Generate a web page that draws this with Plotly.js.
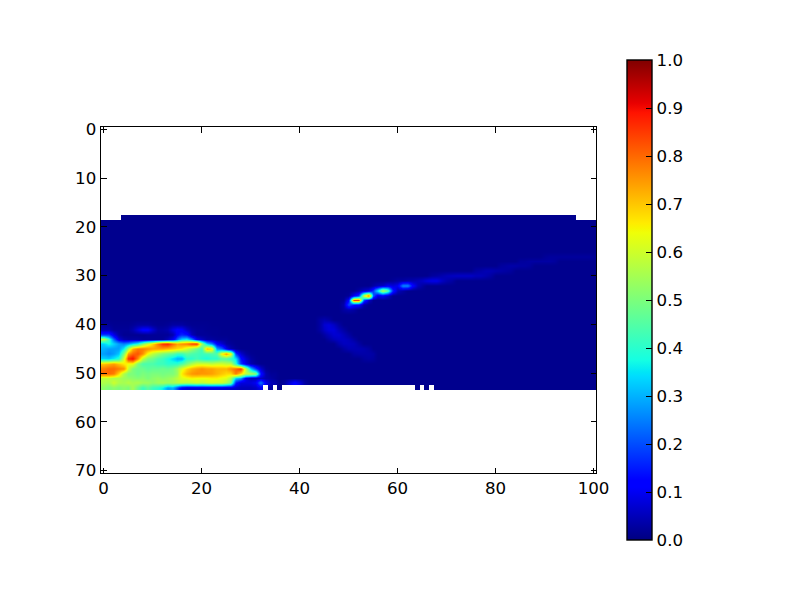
<!DOCTYPE html>
<html>
<head>
<meta charset="utf-8">
<script src="https://cdn.plot.ly/plotly-3.0.1.min.js"></script>
<style>html,body{margin:0;padding:0;background:#fff}</style>
</head>
<body>
<div id="chart" style="width:800px;height:600px"></div>
<script>
const nCols = 101, nRows = 71;
const backgroundLevel = 0.012;
const xTicks = [0, 20, 40, 60, 80, 100];
const yTicks = [0, 10, 20, 30, 40, 50, 60, 70];
const cbTicks = [0, 0.1, 0.2, 0.3, 0.4, 0.5, 0.6, 0.7, 0.8, 0.9, 1];
const cbLabels = ['0.0','0.1','0.2','0.3','0.4','0.5','0.6','0.7','0.8','0.9','1.0'];

// visible extent of the data per row: [row, firstCol, lastCol]
const spans = [[18, 4, 96]];
const fullRowsFrom = 19, fullRowsTo = 52;
const row53Cols = [[0, 32], [34, 34], [36, 36], [64, 64], [66, 66], [68, 100]];

// hot patch, rows 40..53, columns 0..35
const hotFirstRow = 40;
const hot40 = [.02,.02,.015,.015,.015,.015,.02,.03,.03,.03,.02,.015,.015,.02,.03,.03,.03,.02,.015,.015,.015,.015,.012,.012,.012,.012,.012,.012,.012,.012,.012,.012,.012,.012,.012,.012];
const hot41 = [.04,.04,.02,.02,.02,.02,.04,.08,.12,.12,.07,.03,.03,.04,.09,.12,.11,.06,.03,.02,.02,.015,.015,.015,.012,.012,.012,.012,.012,.012,.012,.012,.012,.012,.012,.012];
const hot42 = [.18,.18,.09,.03,.015,.015,.015,.015,.015,.02,.02,.02,.02,.02,.04,.12,.16,.14,.05,.02,.02,.02,.015,.015,.012,.012,.012,.012,.012,.012,.012,.012,.012,.012,.012,.012];
const hot43 = [.58,.42,.22,.08,.04,.03,.03,.03,.02,.02,.02,.02,.02,.05,.10,.22,.33,.36,.25,.10,.06,.03,.03,.02,.02,.02,.012,.012,.012,.012,.012,.012,.012,.012,.012,.012];
const hot44 = [.33,.38,.33,.28,.25,.28,.33,.38,.50,.60,.68,.78,.86,.88,.80,.74,.76,.78,.84,.86,.55,.33,.25,.12,.07,.03,.02,.012,.012,.012,.012,.012,.012,.012,.012,.012];
const hot45 = [.30,.28,.28,.28,.36,.55,.72,.78,.78,.76,.74,.74,.74,.72,.70,.68,.66,.60,.54,.48,.42,.72,.68,.28,.22,.10,.04,.02,.012,.012,.012,.012,.012,.012,.012,.012];
const hot46 = [.28,.26,.28,.32,.50,.74,.80,.82,.76,.64,.58,.54,.50,.48,.46,.42,.42,.46,.44,.43,.42,.43,.44,.45,.66,.76,.66,.18,.07,.03,.015,.012,.012,.012,.012,.012];
const hot47 = [.33,.32,.36,.40,.60,.86,.90,.76,.58,.50,.48,.44,.42,.38,.34,.30,.30,.40,.40,.43,.40,.38,.40,.40,.44,.44,.40,.35,.14,.07,.03,.015,.012,.012,.012,.012];
const hot48 = [.70,.72,.74,.70,.66,.64,.64,.50,.44,.44,.44,.42,.42,.40,.40,.40,.44,.50,.56,.60,.60,.60,.58,.60,.60,.58,.58,.40,.18,.09,.04,.02,.012,.012,.012,.012];
const hot49 = [.78,.80,.80,.78,.76,.60,.50,.48,.48,.46,.47,.47,.48,.47,.49,.54,.62,.68,.72,.74,.76,.74,.74,.72,.72,.72,.76,.80,.86,.58,.32,.18,.07,.02,.012,.012];
const hot50 = [.80,.80,.78,.68,.56,.50,.50,.48,.50,.49,.50,.50,.49,.50,.50,.54,.66,.72,.75,.76,.75,.75,.74,.72,.70,.68,.68,.78,.68,.58,.56,.52,.14,.04,.02,.02];
const hot51 = [.58,.58,.56,.56,.54,.53,.52,.51,.52,.50,.52,.53,.52,.53,.55,.58,.62,.63,.65,.64,.64,.64,.65,.65,.63,.62,.56,.33,.28,.10,.05,.05,.06,.04,.03,.02];
const hot52 = [.56,.55,.60,.56,.55,.57,.55,.56,.54,.54,.52,.54,.55,.54,.55,.57,.58,.57,.58,.60,.58,.60,.61,.60,.60,.56,.50,.15,.08,.08,.08,.10,.25,.10,.05,.04];
const hot53 = [.52,.50,.52,.50,.52,.50,.55,.48,.42,.46,.42,.40,.36,.28,.30,.20,.10,.08,.08,.08,.08,.08,.08,.08,.08,.07,.07,.06,.05,.05,.05,.06,.10,.05,.03,.03];
const hotRows = [hot40,hot41,hot42,hot43,hot44,hot45,hot46,hot47,hot48,hot49,hot50,hot51,hot52,hot53];

// thin streak and faint features: [row, firstCol, values...]
const streak = [
  [37, 49, .03, .04, .03],
  [36, 49, .04, .20, .14, .12, .03],
  [35, 49, .02, .12, .84, .84, .20, .06],
  [34, 50, .02, .10, .18, .60, .80, .22, .08, .10, .06],
  [33, 52, .03, .06, .08, .18, .36, .58, .46, .16, .05, .03],
  [32, 55, .03, .05, .06, .10, .08, .10, .26, .26, .12, .05, .03],
  [31, 59, .02, .03, .03, .04, .04, .05, .06, .08, .09, .09, .06, .04, .03],
  [30, 67, .025, .03, .04, .05, .055, .06, .06, .06, .06, .05, .05, .04, .03],
  [29, 76, .03, .035, .045, .045, .04, .035, .03, .025],
  [28, 81, .025, .03, .035, .035, .03, .03, .025],
  [27, 85, .025, .025, .03, .03, .03, .03, .03, .025],
  [26, 90, .02, .025, .025, .025, .025, .025, .025, .025, .025, .025, .02],
  [39, 44, .03, .04, .03],
  [40, 44, .03, .07, .08, .06, .03],
  [41, 44, .03, .06, .08, .08, .05, .03],
  [42, 45, .03, .05, .07, .07, .05, .03],
  [43, 46, .03, .05, .06, .06, .05, .03],
  [44, 48, .04, .055, .055, .05, .03],
  [45, 49, .03, .045, .045, .045, .04, .03],
  [46, 51, .03, .035, .035, .035, .03],
  [47, 53, .025, .03, .025],
  [52, 37, .03, .08, .12, .08, .03]
];

const jet = [
  [0, 'rgb(0,0,128)'], [0.11, 'rgb(0,0,255)'], [0.125, 'rgb(0,0,255)'],
  [0.34, 'rgb(0,219,255)'], [0.35, 'rgb(0,230,247)'], [0.375, 'rgb(21,255,226)'],
  [0.64, 'rgb(239,255,8)'], [0.65, 'rgb(247,246,0)'], [0.66, 'rgb(255,236,0)'],
  [0.89, 'rgb(255,19,0)'], [0.91, 'rgb(232,0,0)'], [1, 'rgb(128,0,0)']
];

const z = [];
for (let r = 0; r < nRows; r++) {
  const row = new Array(nCols).fill(null);
  if (r >= fullRowsFrom && r <= fullRowsTo) row.fill(backgroundLevel);
  z.push(row);
}
spans.forEach(s => { for (let c = s[1]; c <= s[2]; c++) z[s[0]][c] = backgroundLevel; });
row53Cols.forEach(s => { for (let c = s[0]; c <= s[1]; c++) z[53][c] = backgroundLevel; });
hotRows.forEach((vals, i) => vals.forEach((v, c) => {
  if (z[hotFirstRow + i][c] !== null) z[hotFirstRow + i][c] = v;
}));
streak.forEach(s => s.slice(2).forEach((v, i) => { z[s[0]][s[1] + i] = v; }));

const font = {family: '"DejaVu Sans", sans-serif', size: 16.67, color: '#000'};
const axisBase = {
  ticks: 'inside', ticklen: 5.5, tickwidth: 1, tickcolor: '#000',
  showline: true, linecolor: '#000', linewidth: 1.4, mirror: 'allticks',
  showgrid: false, zeroline: false, tickfont: font, tickmode: 'array'
};

Plotly.newPlot('chart', [{
  type: 'heatmap',
  z: z,
  zmin: 0, zmax: 1,
  zsmooth: 'best',
  connectgaps: false,
  colorscale: jet,
  hoverongaps: false,
  colorbar: {
    x: 1.0626, xanchor: 'left', xpad: 0,
    y: 0.5, yanchor: 'middle', ypad: 0,
    thickness: 25, thicknessmode: 'pixels',
    len: 480, lenmode: 'pixels',
    outlinecolor: '#000', outlinewidth: 1.4,
    ticks: 'inside', ticklen: 6, tickwidth: 1, tickcolor: '#000',
    tickmode: 'array', tickvals: cbTicks, ticktext: cbLabels,
    tickfont: font
  }
}], {
  width: 800, height: 600,
  paper_bgcolor: '#fff', plot_bgcolor: '#fff',
  margin: {l: 101, r: 204, t: 127, b: 127, pad: 0, autoexpand: false},
  showlegend: false,
  xaxis: Object.assign({}, axisBase, {range: [-0.5, 100.5], tickvals: xTicks, ticktext: xTicks.map(String)}),
  yaxis: Object.assign({}, axisBase, {range: [70.5, -0.5], tickvals: yTicks, ticktext: yTicks.map(String)})
}, {displayModeBar: false, staticPlot: true});
</script>
</body>
</html>
